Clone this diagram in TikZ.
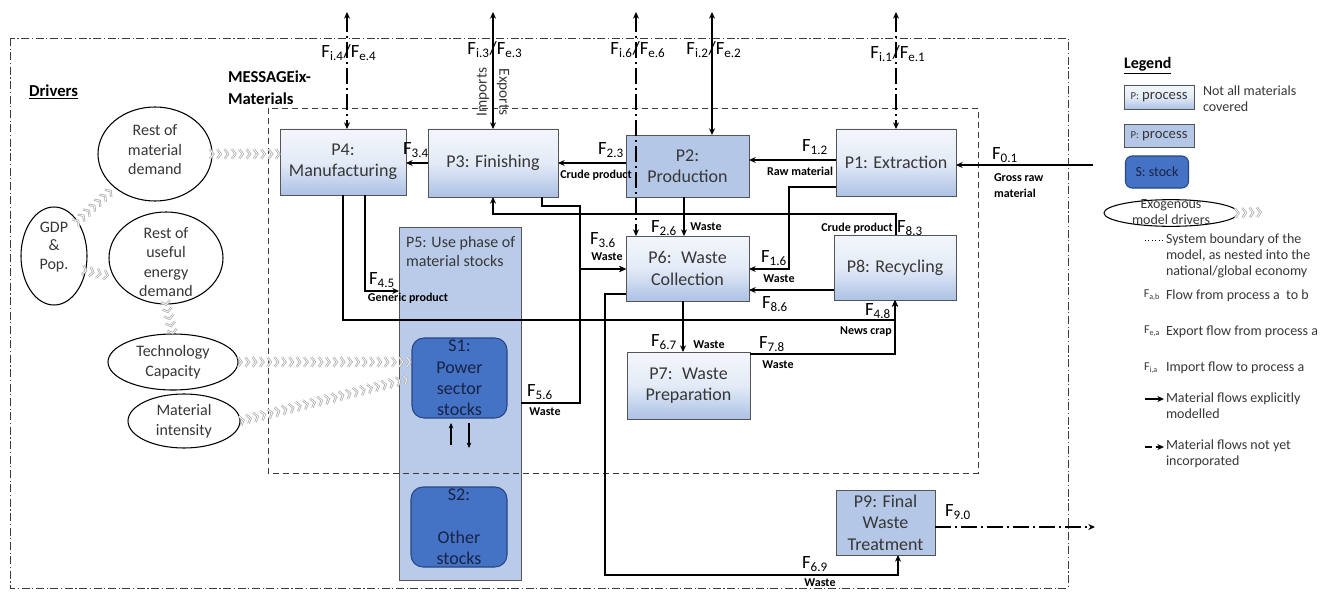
\documentclass[tikz,border=0pt]{standalone}
\usepackage{fontspec}
\setmainfont{Carlito}
\usetikzlibrary{arrows.meta,decorations.markings,shapes.geometric}
\definecolor{procflat}{RGB}{180,199,231}
\definecolor{proctop}{RGB}{243,246,251}
\definecolor{procmid}{RGB}{228,235,247}
\definecolor{procbot}{RGB}{172,193,229}
\definecolor{stockfill}{RGB}{68,114,196}
\definecolor{stockline}{RGB}{40,70,130}
\definecolor{boxline}{RGB}{85,85,85}
\definecolor{chevcol}{RGB}{175,175,175}
\definecolor{txt}{RGB}{55,55,55}
\definecolor{stocktxt}{RGB}{25,35,70}
\definecolor{bound}{RGB}{60,60,60}
\newcommand\Flow[1]{F\textsubscript{#1}}
\tikzset{
  every node/.style={inner sep=0pt, outer sep=0pt},
  procbase/.style={draw=boxline, line width=0.7pt, align=center, text=txt, font=\fontsize{13.5}{16}\selectfont},
  gradbox/.style={procbase, top color=proctop, bottom color=procbot, middle color=procmid},
  flatbox/.style={procbase, fill=procflat},
  stockbox/.style={draw=stockline, line width=0.8pt, fill=stockfill, rounded corners=9pt, align=center, text=stocktxt, font=\fontsize{13.5}{16}\selectfont},
  drv/.style={ellipse, draw=black, line width=0.8pt, fill=white},
  drvtxt/.style={align=center, text=txt, font=\fontsize{12}{14.6}\selectfont},
  flow/.style={draw=black, line width=1.3pt, -{Stealth[length=5pt,width=4.5pt]}},
  flowtwo/.style={draw=black, line width=1.3pt, {Stealth[length=5pt,width=4.5pt]}-{Stealth[length=5pt,width=4.5pt]}},
  dd/.style={dash pattern=on 12pt off 3pt on 1.5pt off 3pt},
  flab/.style={font=\fontsize{14}{16}\selectfont},
  wlab/.style={font=\bfseries\fontsize{9}{12}\selectfont},
  chev/.style={decorate, decoration={markings, mark=between positions 0.02 and 1 step 5.5pt with {
      \draw[chevcol, line width=1.7pt, line join=miter] (-2.6pt,3.6pt) -- (0,0) -- (-2.6pt,-3.6pt);
      \draw[white, line width=0.5pt, line join=miter] (-2.6pt,3.6pt) -- (0,0) -- (-2.6pt,-3.6pt);}}},
  legtxt/.style={align=left, text=txt, font=\fontsize{10.5}{11.8}\selectfont},
  outerb/.style={draw=bound, line width=0.6pt, dash pattern=on 6pt off 2pt on 0.8pt off 2pt},
  innerb/.style={draw=bound, line width=0.6pt, dash pattern=on 4.5pt off 3pt},
}
\begin{document}
\begin{tikzpicture}[x=0.75pt,y=-0.75pt]
\fill[white] (0,0) rectangle (1329,592);
\useasboundingbox (0,0) rectangle (1329,592);

% ---------- use phase column and stocks
\node[flatbox, fill=procflat!92!white, minimum width=91.5pt, minimum height=264.75pt] (P5) at (460,403.5) {};
\node[anchor=north west, align=left, text=txt, font=\fontsize{12}{14.5}\selectfont] (P5t) at (406,236) {P5: Use phase of\\material stocks};
\node[stockbox, minimum width=71.25pt, minimum height=60pt] (S1) at (459.5,378) {S1:\\Power\\sector\\stocks};
\node[stockbox, minimum width=72pt, minimum height=60pt] (S2) at (459,527) {S2:\\[16pt]Other\\stocks};

% ---------- processes
\node[gradbox, minimum width=94.5pt, minimum height=49.5pt] (P4) at (343,162) {P4:\\Manufacturing};
\node[gradbox, minimum width=97.5pt, minimum height=51pt] (P3) at (493,163) {P3: Finishing};
\node[flatbox, minimum width=92.25pt, minimum height=46.5pt] (P2) at (687.5,166) {P2:\\Production};
\node[gradbox, minimum width=90pt, minimum height=50.25pt] (P1) at (896,162.5) {P1: Extraction};
\node[gradbox, minimum width=92.25pt, minimum height=48.75pt] (P6) at (687.5,268.5) {P6:~ Waste\\Collection};
\node[gradbox, minimum width=91.5pt, minimum height=48.75pt] (P8) at (895,267.5) {P8: Recycling};
\node[gradbox, minimum width=92.25pt, minimum height=50.25pt] (P7) at (688.5,385.5) {P7:~ Waste\\Preparation};
\node[flatbox, minimum width=74.25pt, minimum height=48.75pt] (P9) at (885.5,522.5) {P9: Final\\Waste\\Treatment};

% ---------- drivers
\node[drv, minimum width=85.5pt, minimum height=70.5pt] (rmd) at (155,154) {};
\node[drvtxt] (rmdt) at (155,150) {Rest of\\material\\demand};
\node[drv, minimum width=49.5pt, minimum height=73.5pt] (gdp) at (54,256) {};
\node[drvtxt, font=\fontsize{12}{13.8}\selectfont] (gdpt) at (54,247) {GDP\\\&\\Pop.};
\node[drv, minimum width=85.5pt, minimum height=69pt] (ue) at (166,258) {};
\node[drvtxt] (uet) at (166,262) {Rest of\\useful\\energy\\demand};
\node[drv, minimum width=97.5pt, minimum height=42pt] (tech) at (173,362) {};
\node[drvtxt] (techt) at (173,362) {Technology\\Capacity};
\node[drv, minimum width=84pt, minimum height=40.5pt] (mi) at (184,421) {};
\node[drvtxt] (mit) at (184,421) {Material\\intensity};

\node[font=\bfseries\fontsize{12.5}{14}\selectfont, anchor=west] (drvlab) at (29,92) {\underline{Drivers}};
\node[font=\bfseries\fontsize{12.5}{16}\selectfont, align=left, anchor=north west] (msg) at (228,71) {MESSAGEix-\\Materials};

% ---------- boundaries
\draw[outerb] (10,38) rectangle (1068,588);
\draw[innerb] (268,108) rectangle (978,473);

% ---------- chevrons
\path[chev] (rmd.east) -- (P4.west |- rmd.east);
\path[chev] (gdp.north east) -- (rmd.south west);
\path[chev] (gdp.-25) -- (ue.200);
\path[chev] (ue.south) -- (tech.north);
\path[chev] (tech.east) -- (S1.west |- tech.east);
\path[chev] (mi.east) -- (S1.west);

% ---------- import / export flows
\coordinate (t4) at (347,12);
\coordinate (t3) at (493,12);
\coordinate (t6) at (636,12);
\coordinate (t2) at (712,12);
\coordinate (t1) at (896,12);
\draw[flowtwo, dd] (t4) -- (t4 |- P4.north);
\draw[flowtwo] (t3) -- (t3 |- P3.north);
\draw[flowtwo, dd] (t6) -- (t6 |- P6.north);
\draw[flowtwo] (t2) -- (t2 |- P2.north);
\draw[flowtwo, dd] (t1) -- (t1 |- P1.north);

% ---------- material flows
\coordinate (s01) at (1093,165);
\draw[flow] (s01) -- (s01 -| P1.east);
\draw[flow] (P1.west |- 0,160) -- (P2.east |- 0,160);
\draw[flow] (P2.west |- 0,163) -- (P3.east |- 0,163);
\draw[flow] (P3.west |- 0,163) -- (P4.east |- 0,163);
\draw[flow] (684,0 |- P2.south) -- (684,0 |- P6.north);
\draw[flow] (683,0 |- P6.south) -- (683,0 |- P7.north);
\draw[flow] (P1.west |- 0,187) -| (789,269) -- (P6.east |- 0,269);
\draw[flow] (P8.west |- 0,290) -- (P6.east |- 0,290);
\draw[flow] (896,0 |- P8.north) |- (493,214) -- (493,0 |- P3.south);
\draw[flow] (542,0 |- P3.south) |- (580,206) |- (P6.west |- 0,269);
\draw[flow] (P5.east |- 0,403) -| (580,269) -- (P6.west |- 0,269);
\draw[flow] (365,0 |- P4.south) |- (P5.west |- 0,291);
\draw[flow] (343,0 |- P4.south) |- (895,320) -- (895,0 |- P8.south);
\draw[flow] (P7.east |- 0,354) -| (895,0 |- P8.south);
\draw[flow] (P6.west |- 0,294) -| (605,575) -| (898,0 |- P9.south);
\coordinate (e90) at (1095,527);
\draw[flow, dd] (P9.east |- e90) -- (e90);

% stock exchange arrows
\coordinate (ua) at (451,445);
\coordinate (ub) at (451,423);
\coordinate (da) at (469,423);
\coordinate (db) at (469,448);
\draw[draw=black, line width=0.8pt, -{Stealth[length=4pt,width=3.5pt]}] (ua) -- (ub);
\draw[draw=black, line width=0.8pt, -{Stealth[length=4pt,width=3.5pt]}] (da) -- (db);

% ---------- flow labels
\node[flab] at (349,53) {\Flow{i.4}/\Flow{e.4}};
\node[flab] at (495,50) {\Flow{i.3}/\Flow{e.3}};
\node[flab] at (638,50) {\Flow{i.6}/\Flow{e.6}};
\node[flab] at (714,50) {\Flow{i.2}/\Flow{e.2}};
\node[flab] at (898,54) {\Flow{i.1}/\Flow{e.1}};
\node[rotate=90, text=txt, font=\fontsize{11.5}{13}\selectfont] at (483,92) {Imports};
\node[rotate=-90, text=txt, font=\fontsize{11.5}{13}\selectfont] at (503,92) {Exports};

\node[flab] at (815,147) {\Flow{1.2}};
\node[wlab] at (800,171) {Raw material};
\node[flab] at (611,150) {\Flow{2.3}};
\node[wlab] at (596,175) {Crude product};
\node[flab] at (416,150) {\Flow{3.4}};
\node[flab] at (1005,155) {\Flow{0.1}};
\node[wlab, align=left, anchor=north west] at (994,174) {Gross raw\\material};
\node[flab] at (664,228) {\Flow{2.6}};
\node[wlab] at (706,227) {Waste};
\node[flab] at (603,240) {\Flow{3.6}};
\node[wlab] at (607,257) {Waste};
\node[flab] at (774,258) {\Flow{1.6}};
\node[wlab] at (779,279) {Waste};
\node[flab] at (775,304) {\Flow{8.6}};
\node[flab] at (664,342) {\Flow{6.7}};
\node[wlab] at (709,345) {Waste};
\node[flab] at (772,344) {\Flow{7.8}};
\node[wlab] at (778,365) {Waste};
\node[flab] at (540,392) {\Flow{5.6}};
\node[wlab] at (545,412) {Waste};
\node[flab] at (382,280) {\Flow{4.5}};
\node[wlab] at (408,298) {Generic product};
\node[flab] at (910,228) {\Flow{8.3}};
\node[wlab] at (857,228) {Crude product};
\node[flab] at (878,311) {\Flow{4.8}};
\node[wlab] at (866,332) {News crap};
\node[flab] at (815,564) {\Flow{6.9}};
\node[wlab] at (820,583) {Waste};
\node[flab] at (958,512) {\Flow{9.0}};

% ---------- legend
\node[font=\bfseries\fontsize{12}{14}\selectfont, anchor=west] (legt) at (1124,66) {\underline{Legend}};
\node[gradbox, font=\fontsize{11}{12}\selectfont, minimum width=52.5pt, minimum height=18pt] (lb1) at (1159,97) {{\fontsize{8}{9}\selectfont P:} process};
\node[legtxt, anchor=west] (lb1t) at (1203,99) {Not all materials\\covered};
\node[flatbox, font=\fontsize{11}{12}\selectfont, minimum width=52.5pt, minimum height=17.25pt] (lb2) at (1159,136) {{\fontsize{8}{9}\selectfont P:} process};
\node[stockbox, rounded corners=5pt, font=\fontsize{10.5}{12}\selectfont, minimum width=47.25pt, minimum height=24pt] (lst) at (1157,172) {S: stock};
\node[drv, minimum width=100.5pt, minimum height=20pt] (lell) at (1171,213) {};
\node[legtxt, align=center] (lellt) at (1171,212) {Exogenous\\model drivers};
\coordinate (lchev) at (1265,212);
\path[chev] (lell.east) -- (lchev);
\coordinate (ld1) at (1145,240);
\coordinate (ld2) at (1163,240);
\draw[black, line width=0.6pt, dotted] (ld1) -- (ld2);
\node[legtxt, anchor=west] (ldt) at (1166,256) {System boundary of the\\model, as nested into the\\national/global economy};
\node[text=txt, font=\fontsize{9}{10}\selectfont] (lfab) at (1152,295) {\Flow{a,b}};
\node[legtxt, anchor=west] (lfabt) at (1166,296) {Flow from process a~ to b};
\node[text=txt, font=\fontsize{9}{10}\selectfont] (lfea) at (1152,331) {\Flow{e,a}};
\node[legtxt, anchor=west] (lfeat) at (1166,332) {Export flow from process a};
\node[text=txt, font=\fontsize{9}{10}\selectfont] (lfia) at (1151,368) {\Flow{i,a}};
\node[legtxt, anchor=west] (lfiat) at (1166,368) {Import flow to process a};
\coordinate (la1) at (1145,399);
\coordinate (la2) at (1164,399);
\draw[flow, line width=1pt] (la1) -- (la2);
\node[legtxt, anchor=west] (lat) at (1166,406) {Material flows explicitly\\modelled};
\coordinate (lb1a) at (1145,447);
\coordinate (lb2a) at (1164,447);
\draw[flow, line width=1pt, dash pattern=on 5pt off 3pt] (lb1a) -- (lb2a);
\node[legtxt, anchor=west] (lbt) at (1166,454) {Material flows not yet\\incorporated};
\end{tikzpicture}
\end{document}
